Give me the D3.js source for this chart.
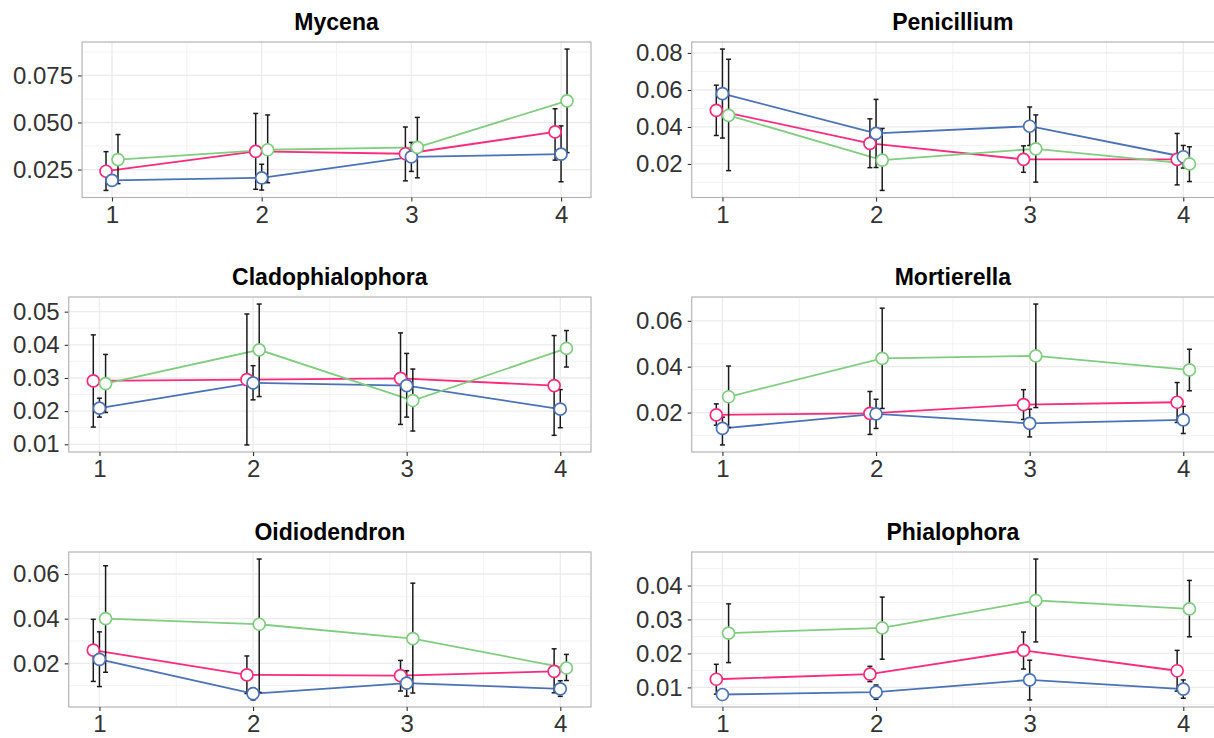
<!DOCTYPE html>
<html>
<head>
<meta charset="utf-8">
<script src="https://cdn.jsdelivr.net/npm/d3@7"></script>
<style>
  body { margin: 0; background: #fff; }
  text { font-family: "Liberation Sans", Arial, sans-serif; }
</style>
</head>
<body>
<div id="chart"></div>
<script>
// six genera, mean relative abundance (with error bars) at 4 stages, 3 groups

const genera = ["Mycena", "Penicillium", "Cladophialophora", "Mortierella", "Oidiodendron", "Phialophora"];
const stages = [1, 2, 3, 4];
const series = ["S1", "S2", "S3"];

const yTickValues = [
  [0.025, 0.05, 0.075],
  [0.02, 0.04, 0.06, 0.08],
  [0.01, 0.02, 0.03, 0.04, 0.05],
  [0.02, 0.04, 0.06],
  [0.02, 0.04, 0.06],
  [0.01, 0.02, 0.03, 0.04]
];
const yTickDigits = [3, 2, 2, 2, 2, 2];

// series 1 (pink)
const s1Mean = [
  [0.0241, 0.0346, 0.0334, 0.0450],
  [0.0490, 0.0311, 0.0225, 0.0225],
  [0.0291, 0.0295, 0.0299, 0.0277],
  [0.0190, 0.0197, 0.0235, 0.0245],
  [0.0259, 0.0148, 0.0145, 0.0164],
  [0.0124, 0.0139, 0.0209, 0.0149]
];
const s1Lo = [
  [0.0139, 0.0145, 0.0190, 0.0300],
  [0.0354, 0.0180, 0.0155, 0.0087],
  [0.0152, 0.0098, 0.0160, 0.0127],
  [0.0145, 0.0105, 0.0170, 0.0157],
  [0.0119, 0.0065, 0.0076, 0.0068],
  [0.0080, 0.0117, 0.0154, 0.0089]
];
const s1Hi = [
  [0.0345, 0.0548, 0.0476, 0.0573],
  [0.0626, 0.0444, 0.0298, 0.0365],
  [0.0430, 0.0493, 0.0436, 0.0428],
  [0.0238, 0.0292, 0.0300, 0.0331],
  [0.0397, 0.0233, 0.0213, 0.0265],
  [0.0168, 0.0162, 0.0263, 0.0209]
];

// series 2 (blue)
const s2Mean = [
  [0.0192, 0.0206, 0.0317, 0.0332],
  [0.0580, 0.0365, 0.0404, 0.0239],
  [0.0209, 0.0285, 0.0277, 0.0206],
  [0.0131, 0.0194, 0.0153, 0.0168],
  [0.0218, 0.0064, 0.0111, 0.0086],
  [0.0079, 0.0086, 0.0122, 0.0095]
];
const s2Lo = [
  [0.0168, 0.0141, 0.0240, 0.0185],
  [0.0340, 0.0181, 0.0300, 0.0178],
  [0.0182, 0.0234, 0.0182, 0.0150],
  [0.0059, 0.0131, 0.0094, 0.0109],
  [0.0096, 0.0036, 0.0053, 0.0052],
  [0.0066, 0.0065, 0.0063, 0.0068]
];
const s2Hi = [
  [0.0216, 0.0278, 0.0394, 0.0482],
  [0.0821, 0.0549, 0.0508, 0.0300],
  [0.0239, 0.0337, 0.0374, 0.0265],
  [0.0180, 0.0258, 0.0215, 0.0227],
  [0.0341, 0.0090, 0.0167, 0.0122],
  [0.0092, 0.0107, 0.0180, 0.0122]
];

// series 3 (green)
const s3Mean = [
  [0.0303, 0.0355, 0.0368, 0.0615],
  [0.0463, 0.0221, 0.0282, 0.0200],
  [0.0283, 0.0385, 0.0232, 0.0389],
  [0.0269, 0.0436, 0.0447, 0.0386],
  [0.0400, 0.0375, 0.0311, 0.0179],
  [0.0260, 0.0275, 0.0356, 0.0331]
];
const s3Lo = [
  [0.0175, 0.0180, 0.0206, 0.0340],
  [0.0164, 0.0057, 0.0102, 0.0105],
  [0.0196, 0.0244, 0.0140, 0.0333],
  [0.0135, 0.0218, 0.0222, 0.0295],
  [0.0160, 0.0070, 0.0067, 0.0123],
  [0.0173, 0.0183, 0.0234, 0.0249]
];
const s3Hi = [
  [0.0436, 0.0540, 0.0527, 0.0890],
  [0.0766, 0.0392, 0.0465, 0.0293],
  [0.0371, 0.0523, 0.0327, 0.0443],
  [0.0403, 0.0655, 0.0673, 0.0476],
  [0.0637, 0.0667, 0.0559, 0.0240],
  [0.0346, 0.0366, 0.0478, 0.0415]
];

const means = [s1Mean, s2Mean, s3Mean],
  lows = [s1Lo, s2Lo, s3Lo],
  highs = [s1Hi, s2Hi, s3Hi];

const width = 1214,
  height = 738;

// layout of the 2 x 3 grid
const colStart = [13, 636];
const colRight = [591, 1214];
const rowTop = [42, 297, 552];
const rowBottom = [197.5, 452, 707];

const colors = ["#FA2A7C", "#4B72B6", "#80CC80"];
const dodge = [-0.04, 0, 0.04];

const svg = d3.select("#chart")
  .append("svg")
  .attr("width", width)
  .attr("height", height)
  .style("display", "block");

svg.append("rect").attr("width", width).attr("height", height).attr("fill", "#fff");

genera.forEach((name, i) => {
  const col = i % 2,
    row = Math.floor(i / 2);
  const top = rowTop[row],
    bottom = rowBottom[row];

  const data = series.map((s, k) => stages.map((st, j) => ({
    stage: st,
    k: k,
    mean: means[k][i][j],
    lo: lows[k][i][j],
    hi: highs[k][i][j]
  })));

  // ggplot style: data range plus 5% each side
  const [mn, mx] = d3.extent(data.flat().flatMap(d => [d.lo, d.hi]));
  const pad = (mx - mn) * 0.05;
  const y = d3.scaleLinear().domain([mn - pad, mx + pad]).range([bottom, top]);

  const g = svg.append("g");

  // y axis first, so we can measure the labels and place the panel
  const fmt = d3.format(`.${yTickDigits[i]}f`);
  const yAxisG = g.append("g")
    .call(d3.axisLeft(y).tickValues(yTickValues[i]).tickFormat(fmt).tickSize(4).tickPadding(5).tickSizeOuter(0));
  yAxisG.select(".domain").remove();
  yAxisG.attr("font-size", 24).attr("font-family", null);
  yAxisG.selectAll("text").attr("fill", "#333");
  yAxisG.selectAll("line").attr("stroke", "#333").attr("stroke-width", 1.1);
  const labW = d3.max(yAxisG.selectAll("text").nodes(), n => n.getComputedTextLength());
  const left = colStart[col] + labW + 9;
  yAxisG.attr("transform", `translate(${left},0)`);

  const x = d3.scaleLinear().domain([0.8, 4.2]).range([left, colRight[col]]);

  // grid
  const grid = g.insert("g", ":first-child");
  const step = yTickValues[i][1] - yTickValues[i][0];
  const yMinor = d3.range(yTickValues[i][0] - step / 2, d3.max(yTickValues[i]) + step, step)
    .filter(v => v > y.domain()[0] && v < y.domain()[1]);
  const xMinor = [1.5, 2.5, 3.5];

  grid.selectAll(".ymin").data(yMinor).join("line")
    .attr("x1", left).attr("x2", colRight[col])
    .attr("y1", d => y(d)).attr("y2", d => y(d))
    .attr("stroke", "#F3F3F3").attr("stroke-width", 1);
  grid.selectAll(".xmin").data(xMinor).join("line")
    .attr("x1", d => x(d)).attr("x2", d => x(d))
    .attr("y1", top).attr("y2", bottom)
    .attr("stroke", "#F3F3F3").attr("stroke-width", 1);
  grid.selectAll(".ymaj").data(yTickValues[i]).join("line")
    .attr("x1", left).attr("x2", colRight[col])
    .attr("y1", d => y(d)).attr("y2", d => y(d))
    .attr("stroke", "#EBEBEB").attr("stroke-width", 1.3);
  grid.selectAll(".xmaj").data(stages).join("line")
    .attr("x1", d => x(d)).attr("x2", d => x(d))
    .attr("y1", top).attr("y2", bottom)
    .attr("stroke", "#EBEBEB").attr("stroke-width", 1.3);

  // panel border (right column runs off the picture edge)
  g.append("rect")
    .attr("x", left).attr("y", top)
    .attr("width", colRight[col] - left + (col ? 4 : 0))
    .attr("height", bottom - top)
    .attr("fill", "none")
    .attr("stroke", "#B5B5B5")
    .attr("stroke-width", 1.2);

  // x axis
  const xAxisG = g.append("g")
    .attr("transform", `translate(0,${bottom})`)
    .call(d3.axisBottom(x).tickValues(stages).tickFormat(d3.format("d")).tickSize(4).tickPadding(4).tickSizeOuter(0));
  xAxisG.select(".domain").remove();
  xAxisG.attr("font-size", 24).attr("font-family", null);
  xAxisG.selectAll("text").attr("fill", "#333");
  xAxisG.selectAll("line").attr("stroke", "#333").attr("stroke-width", 1.1);

  // title
  g.append("text")
    .attr("x", (left + colRight[col]) / 2)
    .attr("y", top - 12)
    .attr("text-anchor", "middle")
    .attr("font-size", 23)
    .attr("font-weight", "bold")
    .attr("fill", "#000")
    .text(name);

  const xPos = d => x(d.stage + dodge[d.k]);

  // lines
  const line = d3.line().x(xPos).y(d => y(d.mean));
  g.append("g").selectAll("path")
    .data(data)
    .join("path")
    .attr("d", line)
    .attr("fill", "none")
    .attr("stroke", (d, k) => colors[k])
    .attr("stroke-width", 1.8);

  // error bars
  const eb = g.append("g").selectAll("g")
    .data(data.flat())
    .join("g")
    .attr("stroke", "#1a1a1a")
    .attr("stroke-width", 1.5);
  eb.append("line")
    .attr("x1", xPos).attr("x2", xPos)
    .attr("y1", d => y(d.lo)).attr("y2", d => y(d.hi));
  eb.append("line")
    .attr("x1", d => xPos(d) - 2.5).attr("x2", d => xPos(d) + 2.5)
    .attr("y1", d => y(d.lo)).attr("y2", d => y(d.lo));
  eb.append("line")
    .attr("x1", d => xPos(d) - 2.5).attr("x2", d => xPos(d) + 2.5)
    .attr("y1", d => y(d.hi)).attr("y2", d => y(d.hi));

  // points
  g.append("g").selectAll("circle")
    .data(data.flat())
    .join("circle")
    .attr("cx", xPos)
    .attr("cy", d => y(d.mean))
    .attr("r", 6)
    .attr("fill", "#fff")
    .attr("stroke", d => colors[d.k])
    .attr("stroke-width", 1.7);
});
</script>
</body>
</html>
